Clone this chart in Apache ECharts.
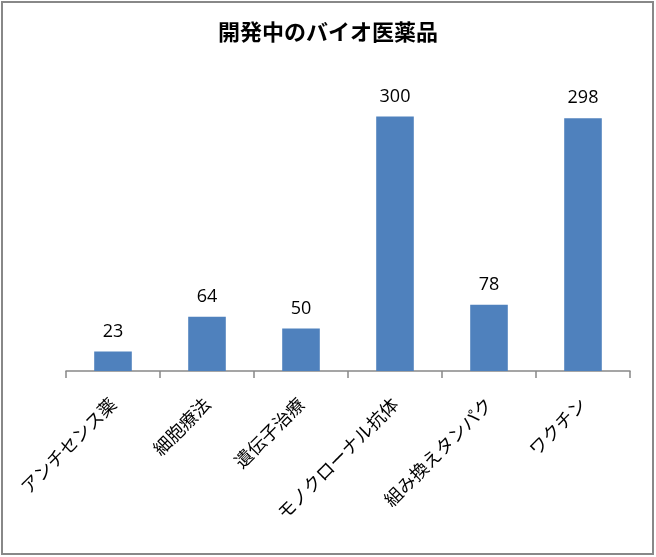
<!DOCTYPE html>
<html>
<head>
<meta charset="utf-8">
<script src="https://cdn.jsdelivr.net/npm/echarts@6/dist/echarts.min.js"></script>
<style>
html,body{margin:0;padding:0;background:#fff;}
#c{width:656px;height:557px;}
</style>
</head>
<body>
<div id="c"></div>
<script>
const titleText = '開発中のバイオ医薬品';
const categories = ['アンチセンス薬', '細胞療法', '遺伝子治療', 'モノクローナル抗体', '組み換えタンパク', 'ワクチン'];
const values = [23, 64, 50, 300, 78, 298];

const font = '"Noto Sans CJK JP", "Noto Sans", sans-serif';
const numFont = '"Open Sans", "Noto Sans", sans-serif';
const chart = echarts.init(document.getElementById('c'), null, {renderer: 'canvas'});
chart.setOption({
  animation: false,
  backgroundColor: '#fff',
  title: {
    text: titleText,
    left: 'center',
    top: 16,
    textStyle: {fontFamily: font, fontSize: 22, fontWeight: 'bold', color: '#000'}
  },
  graphic: [{
    type: 'rect',
    shape: {x: 2, y: 2, width: 651, height: 552},
    style: {fill: 'none', stroke: '#888', lineWidth: 2},
    silent: true
  }],
  grid: {left: 66, right: 26, top: 74, bottom: 186, containLabel: false},
  xAxis: {
    type: 'category',
    data: categories,
    axisLine: {lineStyle: {color: '#888', width: 1.5}},
    axisTick: {show: true, length: 7, alignWithLabel: false, lineStyle: {color: '#888', width: 1.5}},
    axisLabel: {
      rotate: 45, interval: 0, margin: 30,
      fontFamily: font, fontSize: 18, color: '#000'
    }
  },
  yAxis: {
    type: 'value',
    min: 0, max: 350,
    show: false,
    splitLine: {show: false}
  },
  series: [{
    type: 'bar',
    data: values,
    barWidth: '40%',
    itemStyle: {color: '#4F81BD'},
    label: {
      show: true, position: 'top', distance: 11,
      fontFamily: numFont, fontSize: 18, color: '#000'
    }
  }]
});
</script>
</body>
</html>
